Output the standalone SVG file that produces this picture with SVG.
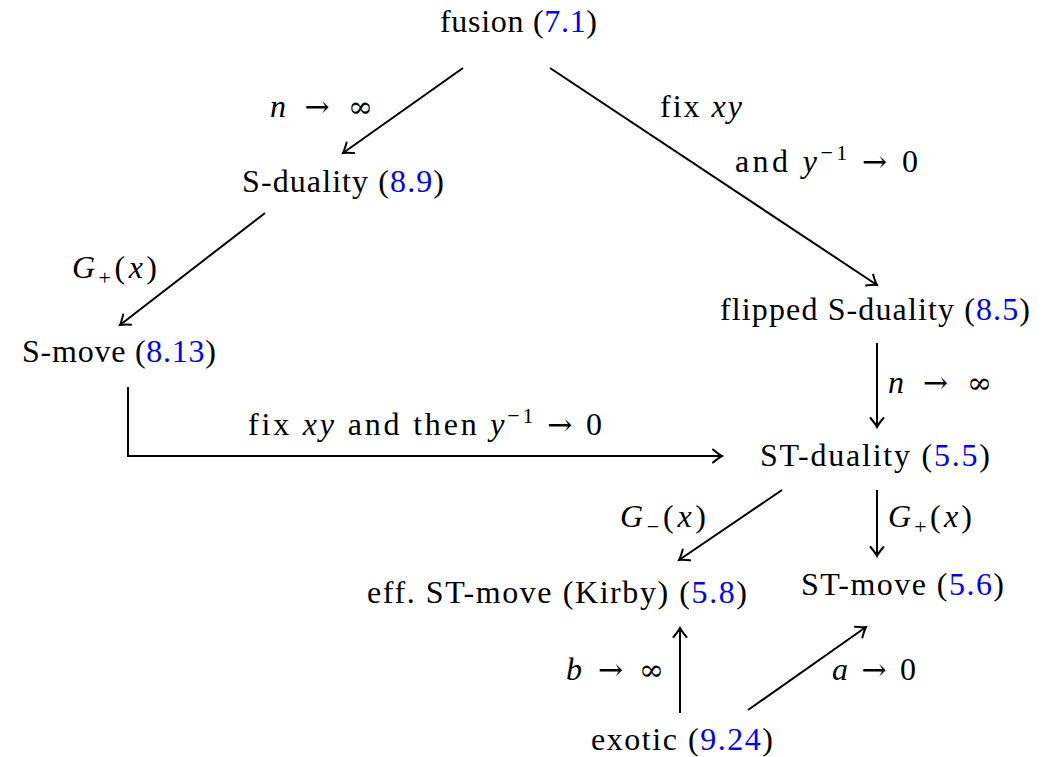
<svg xmlns="http://www.w3.org/2000/svg" width="1058" height="757" viewBox="0 0 1058 757">
<style>
text{font-family:"Liberation Serif","Times New Roman",serif;font-size:32px;fill:#000}
.r{fill:#0000ff}
.i{font-style:italic}
.a{font-family:"DejaVu Serif",serif;font-size:30px}
.e{stroke:#000;stroke-width:2;fill:none;marker-end:url(#ah)}
</style>
<defs>
<marker id="ah" markerUnits="userSpaceOnUse" markerWidth="20" markerHeight="20" refX="0" refY="0" viewBox="-12 -10 14 20" orient="auto">
<path d="M-9,-6.5 Q-3,-1.5 0,0 Q-3,1.5 -9,6.5" fill="none" stroke="#000" stroke-width="2" stroke-linecap="round"/>
</marker>
</defs>
<rect width="1058" height="757" fill="#fff"/>
<g id="fusion"><text x="440" y="32" textLength="157">fusion (<tspan class="r">7.1</tspan>)</text></g>
<g id="sduality"><text x="242" y="192" textLength="202">S-duality (<tspan class="r">8.9</tspan>)</text></g>
<g id="flipped"><text x="720" y="320" textLength="310">flipped S-duality (<tspan class="r">8.5</tspan>)</text></g>
<g id="smove"><text x="22" y="362" textLength="194">S-move (<tspan class="r">8.13</tspan>)</text></g>
<g id="stduality"><text x="760" y="466" textLength="230">ST-duality (<tspan class="r">5.5</tspan>)</text></g>
<g id="effst"><text x="367" y="603" textLength="380">eff. ST-move (Kirby) (<tspan class="r">5.8</tspan>)</text></g>
<g id="stmove"><text x="801" y="595" textLength="203">ST-move (<tspan class="r">5.6</tspan>)</text></g>
<g id="exotic"><text x="591" y="750" textLength="182">exotic (<tspan class="r">9.24</tspan>)</text></g>
<g id="connectors">
<line class="e" x1="463" y1="68" x2="343" y2="153"/>
<line class="e" x1="550" y1="68" x2="877" y2="285"/>
<line class="e" x1="265" y1="213" x2="120" y2="325"/>
<line class="e" x1="877" y1="343" x2="877" y2="427"/>
<polyline class="e" points="128,387 128,456 722,456"/>
<line class="e" x1="782" y1="490" x2="679" y2="560"/>
<line class="e" x1="877" y1="490" x2="877" y2="556"/>
<line class="e" x1="680" y1="713" x2="680" y2="628"/>
<line class="e" x1="748" y1="710" x2="866" y2="627"/>
</g>
<g id="labels">
<text x="270" y="117" textLength="103"><tspan class="i">n</tspan> <tspan class="a">→</tspan> <tspan class="a">∞</tspan></text>
<text x="660" y="117" textLength="82">fix <tspan class="i">xy</tspan></text>
<text x="735" y="172" textLength="183">and <tspan class="i">y</tspan><tspan dy="-12" font-size="22">−1</tspan><tspan dy="12"> </tspan><tspan class="a">→</tspan> 0</text>
<text x="72" y="278" textLength="85"><tspan class="i">G</tspan><tspan dy="7" font-size="22">+</tspan><tspan dy="-7">(</tspan><tspan class="i">x</tspan>)</text>
<text x="888" y="393" textLength="104"><tspan class="i">n</tspan> <tspan class="a">→</tspan> <tspan class="a">∞</tspan></text>
<text x="248" y="435" textLength="354">fix <tspan class="i">xy</tspan> and then <tspan class="i">y</tspan><tspan dy="-12" font-size="22">−1</tspan><tspan dy="12"> </tspan><tspan class="a">→</tspan> 0</text>
<text x="620" y="527" textLength="86"><tspan class="i">G</tspan><tspan dy="7" font-size="22">−</tspan><tspan dy="-7">(</tspan><tspan class="i">x</tspan>)</text>
<text x="888" y="527" textLength="84"><tspan class="i">G</tspan><tspan dy="7" font-size="22">+</tspan><tspan dy="-7">(</tspan><tspan class="i">x</tspan>)</text>
<text x="566" y="680" textLength="98"><tspan class="i">b</tspan> <tspan class="a">→</tspan> <tspan class="a">∞</tspan></text>
<text x="832" y="680" textLength="84"><tspan class="i">a</tspan> <tspan class="a">→</tspan> 0</text>
</g>
</svg>
